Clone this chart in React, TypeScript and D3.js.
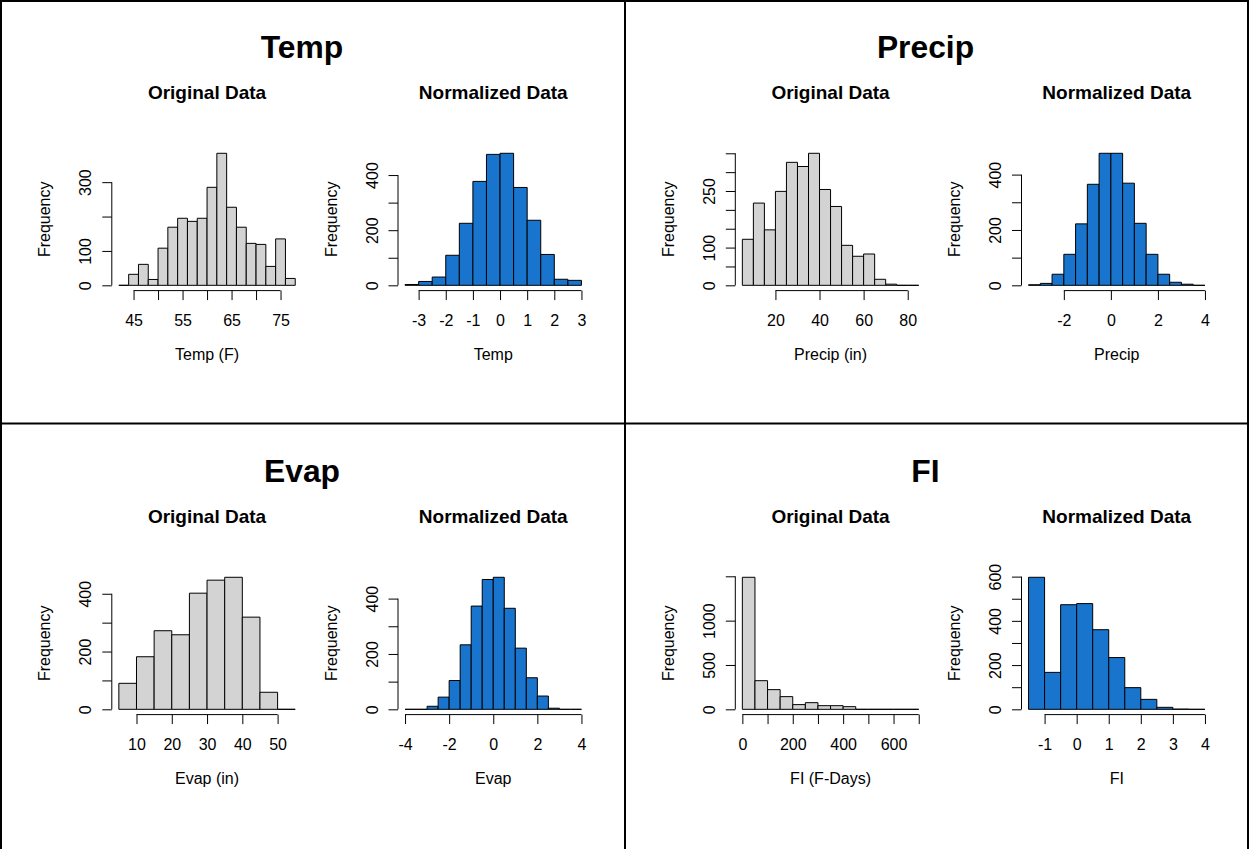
import React, { useRef, useEffect } from "react";
import * as d3 from "d3";

const W = 1249;
const H = 849;
const FONT = "'Liberation Sans', Arial, Helvetica, sans-serif";
const GRAY = "#D3D3D3";
const BLUE = "#1874CD";

// bin counts (first break + bin width alongside)
const tempOrigCounts = [0, 32, 61, 17, 108, 169, 195, 186, 195, 285, 384, 227, 169, 122, 119, 55, 135, 20];
const tempNormCounts = [3, 14, 30, 109, 225, 377, 475, 479, 355, 236, 112, 22, 18];
const precipOrigCounts = [122, 218, 147, 249, 326, 315, 350, 254, 209, 106, 77, 83, 16, 3, 0, 0];
const precipNormCounts = [2, 7, 40, 112, 222, 365, 477, 477, 369, 224, 112, 40, 11, 4, 0];
const evapOrigCounts = [90, 182, 272, 258, 402, 447, 457, 319, 59, 0];
const evapNormCounts = [0, 0, 11, 44, 104, 233, 373, 469, 477, 365, 221, 114, 48, 4, 0, 0];
const fiOrigCounts = [1489, 323, 222, 143, 53, 75, 41, 41, 30, 0, 0, 0, 0, 0];
const fiNormCounts = [597, 167, 473, 478, 360, 234, 98, 45, 9, 1, 0];

// tick positions and the labels R actually printed (others dropped for overlap)
const tempOrigXTicks = [45, 50, 55, 60, 65, 70, 75];
const tempOrigXLabels = [45, 55, 65, 75];
const tempOrigYTicks = [0, 100, 200, 300];
const tempOrigYLabels = [0, 100, 300];
const tempNormXTicks = [-3, -2, -1, 0, 1, 2, 3];
const normYTicks = [0, 100, 200, 300, 400];
const normYLabels = [0, 200, 400];
const precipOrigXTicks = [20, 40, 60, 80];
const precipOrigYTicks = [0, 50, 100, 150, 200, 250, 300, 350];
const precipOrigYLabels = [0, 100, 250];
const precipNormXTicks = [-2, 0, 2, 4];
const evapOrigXTicks = [10, 20, 30, 40, 50];
const evapNormXTicks = [-4, -2, 0, 2, 4];
const fiOrigXTicks = [0, 100, 200, 300, 400, 500, 600, 700];
const fiOrigXLabels = [0, 200, 400, 600];
const fiOrigYTicks = [0, 500, 1000, 1500];
const fiOrigYLabels = [0, 500, 1000];
const fiNormXTicks = [-1, 0, 1, 2, 3, 4];
const fiNormYTicks = [0, 100, 200, 300, 400, 500, 600];
const fiNormYLabels = [0, 200, 400, 600];

interface Hist {
  label: string;
  start: number;
  step: number;
  counts: number[];
  xTicks: number[];
  xLabels: number[];
  yTicks: number[];
  yLabels: number[];
}

const panels: { name: string; orig: Hist; norm: Hist }[] = [
  {
    name: "Temp",
    orig: { label: "Temp (F)", start: 42, step: 2, counts: tempOrigCounts, xTicks: tempOrigXTicks, xLabels: tempOrigXLabels, yTicks: tempOrigYTicks, yLabels: tempOrigYLabels },
    norm: { label: "Temp", start: -3.5, step: 0.5, counts: tempNormCounts, xTicks: tempNormXTicks, xLabels: tempNormXTicks, yTicks: normYTicks, yLabels: normYLabels },
  },
  {
    name: "Precip",
    orig: { label: "Precip (in)", start: 5, step: 5, counts: precipOrigCounts, xTicks: precipOrigXTicks, xLabels: precipOrigXTicks, yTicks: precipOrigYTicks, yLabels: precipOrigYLabels },
    norm: { label: "Precip", start: -3.5, step: 0.5, counts: precipNormCounts, xTicks: precipNormXTicks, xLabels: precipNormXTicks, yTicks: normYTicks, yLabels: normYLabels },
  },
  {
    name: "Evap",
    orig: { label: "Evap (in)", start: 5, step: 5, counts: evapOrigCounts, xTicks: evapOrigXTicks, xLabels: evapOrigXTicks, yTicks: normYTicks, yLabels: normYLabels },
    norm: { label: "Evap", start: -4, step: 0.5, counts: evapNormCounts, xTicks: evapNormXTicks, xLabels: evapNormXTicks, yTicks: normYTicks, yLabels: normYLabels },
  },
  {
    name: "FI",
    orig: { label: "FI (F-Days)", start: 0, step: 50, counts: fiOrigCounts, xTicks: fiOrigXTicks, xLabels: fiOrigXLabels, yTicks: fiOrigYTicks, yLabels: fiOrigYLabels },
    norm: { label: "FI", start: -1.5, step: 0.5, counts: fiNormCounts, xTicks: fiNormXTicks, xLabels: fiNormXTicks, yTicks: fiNormYTicks, yLabels: fiNormYLabels },
  },
];

// layout of one quadrant (R device with two figures)
const QUAD_X = [0, 623.5];
const QUAD_Y = [0, 424];
const PLOT_LEFT = [111.8, 398];
const PLOT_TOP = 148;
const PLOT_W = 190.5;
const PLOT_H = 142.6;
const TICK = 9.5;
const FS = 16;

function drawHist(
  g: d3.Selection<SVGGElement, unknown, null, undefined>,
  h: Hist,
  left: number,
  sub: string,
  fill: string
) {
  const n = h.counts.length;
  const lo = h.start;
  const hi = h.start + n * h.step;
  const pad = (hi - lo) * 0.04;
  const bottom = PLOT_TOP + PLOT_H;
  const x = d3.scaleLinear().domain([lo - pad, hi + pad]).range([left, left + PLOT_W]);
  const yMax = d3.max(h.counts) ?? 1;
  const y = d3.scaleLinear().domain([-0.04 * yMax, 1.04 * yMax]).range([bottom, PLOT_TOP]);

  // bars (paths so empty bins still show as a flat line)
  g.append("g")
    .selectAll("path")
    .data(h.counts)
    .join("path")
    .attr("d", (c, i) => {
      const x0 = x(lo + i * h.step);
      const x1 = x(lo + (i + 1) * h.step);
      return `M${x0},${y(0)}H${x1}V${y(c)}H${x0}Z`;
    })
    .attr("fill", fill)
    .attr("stroke", "#000")
    .attr("stroke-width", 1);

  // x axis
  const xa = g
    .append("g")
    .attr("transform", `translate(0,${bottom})`)
    .call(
      d3
        .axisBottom(x)
        .tickValues(h.xTicks)
        .tickSize(TICK)
        .tickPadding(14.6)
        .tickFormat((d) => (h.xLabels.includes(+d) ? String(d) : ""))
    );
  xa.select(".domain").remove();
  xa.append("line")
    .attr("x1", x(h.xTicks[0]))
    .attr("x2", x(h.xTicks[h.xTicks.length - 1]))
    .attr("stroke", "#000");
  xa.attr("font-family", FONT).attr("font-size", FS);
  xa.selectAll("text").attr("fill", "#000");

  // y axis, labels parallel to the axis like R's las = 0
  const ya = g
    .append("g")
    .attr("transform", `translate(${left},0)`)
    .call(
      d3
        .axisLeft(y)
        .tickValues(h.yTicks)
        .tickSize(TICK)
        .tickFormat((d) => (h.yLabels.includes(+d) ? String(d) : ""))
    );
  ya.select(".domain").remove();
  ya.append("line")
    .attr("y1", y(h.yTicks[0]))
    .attr("y2", y(h.yTicks[h.yTicks.length - 1]))
    .attr("stroke", "#000");
  ya.attr("font-family", FONT).attr("font-size", FS);
  ya.selectAll("text")
    .attr("transform", "rotate(-90)")
    .attr("x", 0)
    .attr("y", -20.5)
    .attr("dy", null)
    .attr("text-anchor", "middle")
    .attr("fill", "#000");

  // titles
  g.append("text")
    .attr("x", left + PLOT_W / 2)
    .attr("y", PLOT_TOP - 49)
    .attr("text-anchor", "middle")
    .attr("font-family", FONT)
    .attr("font-weight", "bold")
    .attr("font-size", 19)
    .text(sub);

  g.append("text")
    .attr("x", left + PLOT_W / 2)
    .attr("y", bottom + 69.5)
    .attr("text-anchor", "middle")
    .attr("font-family", FONT)
    .attr("font-size", FS)
    .text(h.label);

  g.append("text")
    .attr("transform", `translate(${left - 61.5},${PLOT_TOP + PLOT_H / 2}) rotate(-90)`)
    .attr("text-anchor", "middle")
    .attr("font-family", FONT)
    .attr("font-size", FS)
    .text("Frequency");
}

const App: React.FC = () => {
  const svgRef = useRef<SVGSVGElement>(null);

  useEffect(() => {
    if (!svgRef.current) return;
    const svg = d3.select(svgRef.current);
    svg.selectAll("*").remove();

    svg.append("rect").attr("width", W).attr("height", H).attr("fill", "#fff");

    panels.forEach((p, k) => {
      const ox = QUAD_X[k % 2];
      const oy = QUAD_Y[Math.floor(k / 2)];
      const g = svg.append("g").attr("transform", `translate(${ox},${oy})`);

      g.append("text")
        .attr("x", 302)
        .attr("y", 58)
        .attr("text-anchor", "middle")
        .attr("font-family", FONT)
        .attr("font-weight", "bold")
        .attr("font-size", 31.8)
        .text(p.name);

      drawHist(g, p.orig, PLOT_LEFT[0], "Original Data", GRAY);
      drawHist(g, p.norm, PLOT_LEFT[1], "Normalized Data", BLUE);
    });

    // frame lines between the four images
    const borders = [
      [1, 0, 1, H],
      [0, 1, W, 1],
      [1248, 0, 1248, H],
      [625, 0, 625, H],
      [0, 423.5, W, 423.5],
    ];
    svg.append("g")
      .selectAll("line")
      .data(borders)
      .join("line")
      .attr("x1", (d) => d[0])
      .attr("y1", (d) => d[1])
      .attr("x2", (d) => d[2])
      .attr("y2", (d) => d[3])
      .attr("stroke", "#000")
      .attr("stroke-width", 2);
  }, []);

  return (
    <svg
      ref={svgRef}
      width={W}
      height={H}
      style={{ position: "absolute", left: 0, top: 0, display: "block" }}
    />
  );
};

export default App;
